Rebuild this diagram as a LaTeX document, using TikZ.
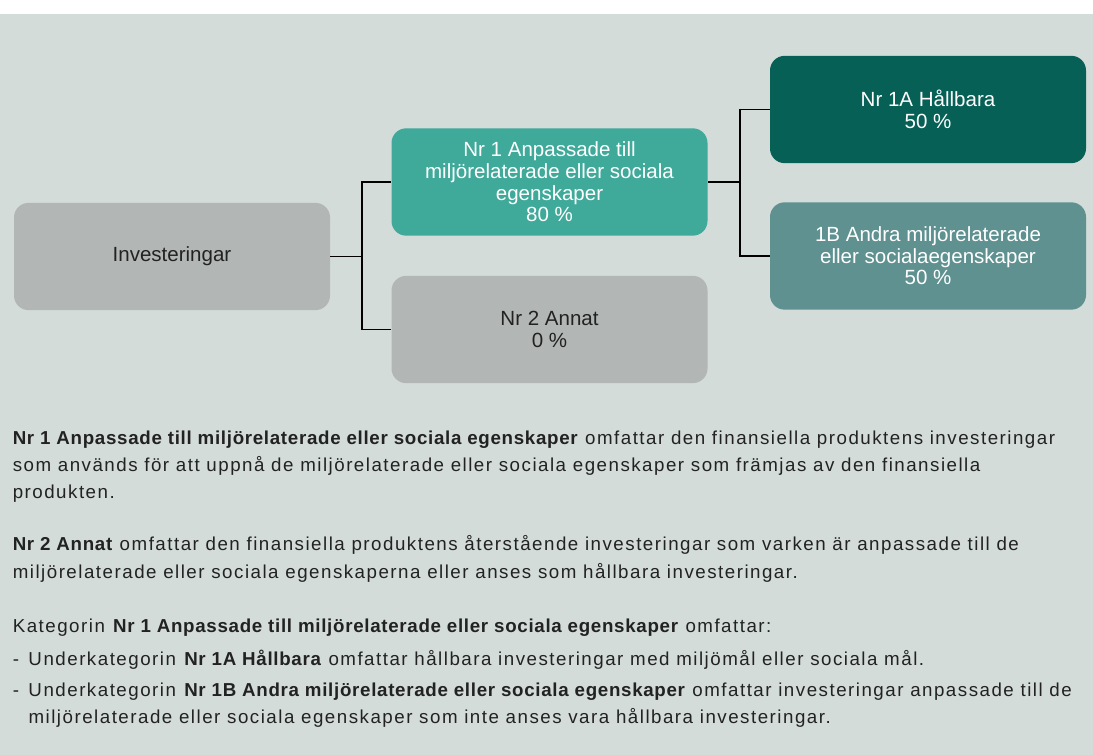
\documentclass[tikz,border=0pt]{standalone}
\usepackage{fontspec}
\setmainfont{Liberation Sans}
\newfontfamily\bodyfont[UprightFeatures={LetterSpace=8}, BoldFeatures={LetterSpace=3.7}]{Liberation Sans}

\definecolor{bgmint}{HTML}{D3DCD9}
\definecolor{boxgrey}{HTML}{B2B6B4}
\definecolor{boxteal}{HTML}{3FA99A}
\definecolor{boxdark}{HTML}{066055}
\definecolor{boxsea}{HTML}{5F9190}
\definecolor{inkgrey}{HTML}{222222}

\begin{document}
\begin{tikzpicture}[x=0.75pt, y=-0.75pt,
    box/.style={rounded corners=11pt, minimum width=237pt, minimum height=80.5pt,
        inner sep=0pt, align=center, font=\fontsize{15.4}{16.2}\selectfont},
    lightbox/.style={box, fill=boxgrey, text=inkgrey},
    darkbox/.style={box, text=white},
    link/.style={draw=black, line width=1.2pt},
    body/.style={anchor=base west, inner sep=0pt, text=inkgrey,
        font=\bodyfont\fontsize{14.05}{16}\selectfont}]

    \useasboundingbox (0, 0) rectangle (1093, 755);
    \fill[white] (0, 0) rectangle (1093, 14);
    \fill[bgmint] (0, 14) rectangle (1093, 755);

    \node[lightbox] (inv) at (172, 256.5) {Investeringar};
    \node[darkbox, fill=boxteal] (nr1) at (549.5, 182) {Nr 1 Anpassade till\\miljörelaterade eller sociala\\egenskaper\\80 \%};
    \node[lightbox] (nr2) at (549.5, 329.5) {Nr 2 Annat\\0 \%};
    \node[darkbox, fill=boxdark] (nr1a) at (928, 109.5) {Nr 1A Hållbara\\50 \%};
    \node[darkbox, fill=boxsea] (nr1b) at (928, 256) {1B Andra miljörelaterade\\eller socialaegenskaper\\50 \%};

    \draw[link] (inv.east) -- ++(32, 0) coordinate (fork1);
    \draw[link] (nr1.west) -| (fork1) |- (nr2.west);
    \draw[link] (nr1.east) -- ++(32, 0) coordinate (fork2);
    \draw[link] (nr1a.west) -| (fork2) |- (nr1b.west);

    \node[body] (p1a) at (12.5, 444.5) {\textbf{Nr 1 Anpassade till miljörelaterade eller sociala egenskaper} omfattar den finansiella produktens investeringar};
    \node[body] (p1b) at (12.5, 471.5) {som används för att uppnå de miljörelaterade eller sociala egenskaper som främjas av den finansiella};
    \node[body] (p1c) at (12.5, 498.5) {produkten.};

    \node[body] (p2a) at (12.5, 551) {\textbf{Nr 2 Annat} omfattar den finansiella produktens återstående investeringar som varken är anpassade till de};
    \node[body] (p2b) at (12.5, 578) {miljörelaterade eller sociala egenskaperna eller anses som hållbara investeringar.};

    \node[body] (p3a) at (12.5, 632) {Kategorin \textbf{Nr 1 Anpassade till miljörelaterade eller sociala egenskaper} omfattar:};
    \node[body] (p3b) at (12.5, 665) {\makebox[11.8pt][l]{-}Underkategorin \textbf{Nr 1A Hållbara} omfattar hållbara investeringar med miljömål eller sociala mål.};
    \node[body] (p3c) at (12.5, 696.5) {\makebox[11.8pt][l]{-}Underkategorin \textbf{Nr 1B Andra miljörelaterade eller sociala egenskaper} omfattar investeringar anpassade till de};
    \node[body] (p3d) at (28.3, 723.5) {miljörelaterade eller sociala egenskaper som inte anses vara hållbara investeringar.};

\end{tikzpicture}
\end{document}
